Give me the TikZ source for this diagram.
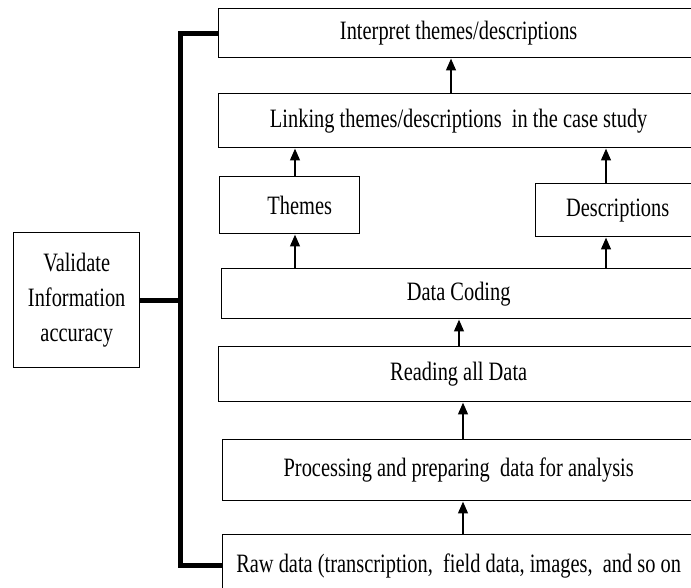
\documentclass[tikz,border=0pt]{standalone}
\usepackage{fontspec}
\setmainfont{Liberation Serif}[FakeStretch=0.77]
\usetikzlibrary{arrows.meta}
\begin{document}
\begin{tikzpicture}[x=1pt,y=-1pt,
  stagebox/.style={draw, line width=1.4pt, inner sep=0pt, anchor=north west,
    font=\fontsize{26.5}{35}\selectfont},
  flow/.style={line width=2.5pt, -{Triangle[length=12pt,width=9.5pt]}},
  bracket/.style={line width=5pt, line join=miter, line cap=butt}]
\useasboundingbox (0,0) rectangle (691,587);
\clip (0,0) rectangle (691,587);

% process stages, bottom to top
\node[stagebox, minimum width=480pt, minimum height=49pt] (interp) at (218,8) {Interpret themes/descriptions};
\node[stagebox, minimum width=480pt, minimum height=54pt] (linking) at (218,93) {Linking themes/descriptions\ \ in the case study};
\node[stagebox, minimum width=140pt, minimum height=57pt] (themes) at (219,176) {};
\node[font=\fontsize{26.5}{35}\selectfont] (themeslabel) at ([xshift=10pt]themes.center) {Themes};
\node[stagebox, minimum width=164pt, minimum height=53pt] (desc) at (535,183) {Descriptions};
\node[stagebox, minimum width=474pt, minimum height=50pt] (coding) at (221,268) {Data Coding};
\node[stagebox, minimum width=480pt, minimum height=55pt] (reading) at (218,346) {Reading all Data};
\node[stagebox, minimum width=472pt, minimum height=61pt] (processing) at (222,439) {Processing and preparing\ \ data for analysis};
\node[stagebox, minimum width=472pt, minimum height=62pt] (raw) at (222,534) {Raw data (transcription,\ \ field data, images,\ \ and so on};

% validation box on the left
\node[stagebox, minimum width=126pt, minimum height=135pt, align=center] (validate) at (13,232) {Validate\\Information\\accuracy};

% columns carrying the arrows
\coordinate (colA) at (463,0);
\coordinate (colB) at (459,0);
\coordinate (colT) at (295,0);
\coordinate (colD) at (606,0);
\coordinate (colI) at (451,0);
\coordinate (spine) at (180,0);

\draw[flow] (raw.north -| colA) -- (processing.south -| colA);
\draw[flow] (processing.north -| colA) -- (reading.south -| colA);
\draw[flow] (reading.north -| colB) -- (coding.south -| colB);
\draw[flow] (coding.north -| colT) -- (themes.south -| colT);
\draw[flow] (coding.north -| colD) -- (desc.south -| colD);
\draw[flow] (themes.north -| colT) -- (linking.south -| colT);
\draw[flow] (desc.north -| colD) -- (linking.south -| colD);
\draw[flow] (linking.north -| colI) -- (interp.south -| colI);

% validation bracket spanning all stages
\draw[bracket] (interp.west) -| (spine |- raw.west) -- (raw.west);
\draw[bracket] (validate.east) -- (validate.east -| spine);
\end{tikzpicture}
\end{document}
